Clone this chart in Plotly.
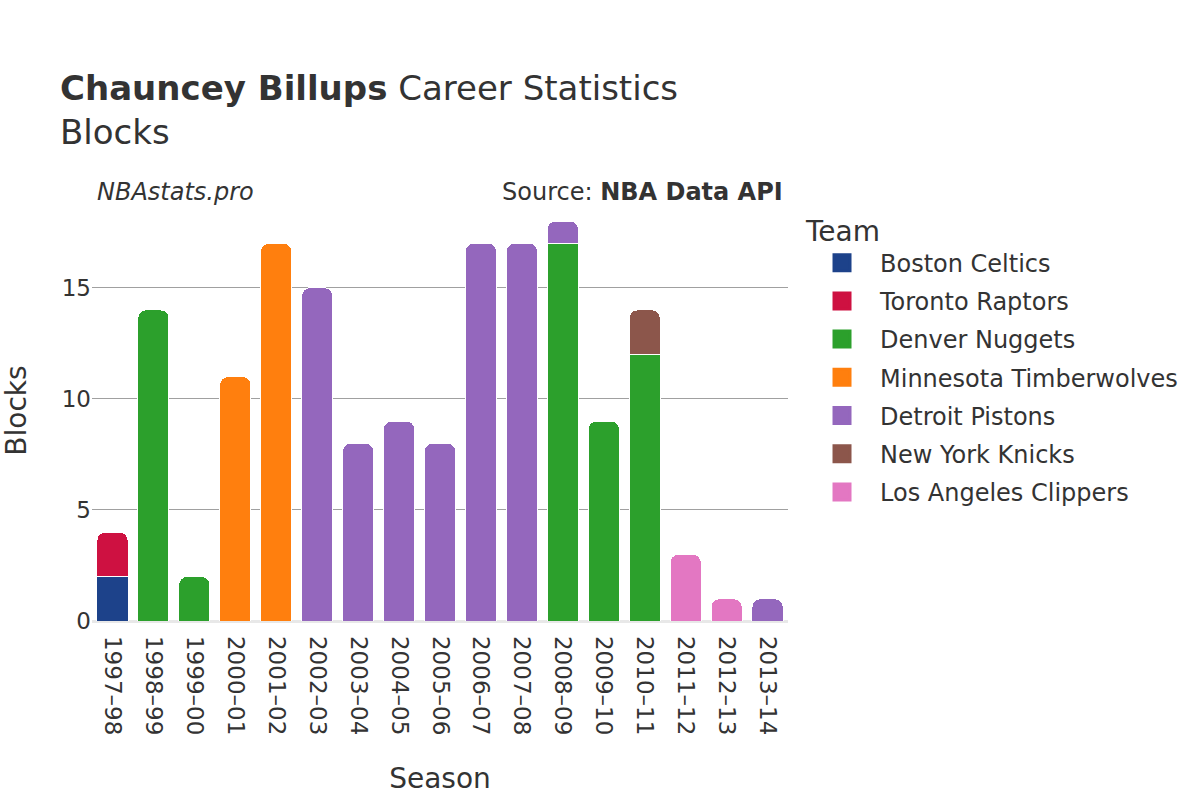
import plotly.graph_objects as go

seasons = ["1997–98", "1998–99", "1999–00", "2000–01", "2001–02", "2002–03", "2003–04",
           "2004–05", "2005–06", "2006–07", "2007–08", "2008–09", "2009–10", "2010–11",
           "2011–12", "2012–13", "2013–14"]

teams = ["Boston Celtics", "Toronto Raptors", "Denver Nuggets", "Minnesota Timberwolves",
         "Detroit Pistons", "New York Knicks", "Los Angeles Clippers"]

colors = ["#1d428a", "#ce1141", "#2ca02c", "#ff7f0e", "#9467bd", "#8c564b", "#e377c2"]

boston_celtics = {"1997–98": 2}
toronto_raptors = {"1997–98": 2}
denver_nuggets = {"1998–99": 14, "1999–00": 2, "2008–09": 17, "2009–10": 9, "2010–11": 12}
minnesota_timberwolves = {"2000–01": 11, "2001–02": 17}
detroit_pistons = {"2002–03": 15, "2003–04": 8, "2004–05": 9, "2005–06": 8, "2006–07": 17,
                   "2007–08": 17, "2008–09": 1, "2013–14": 1}
new_york_knicks = {"2010–11": 2}
los_angeles_clippers = {"2011–12": 3, "2012–13": 1}

team_data = [boston_celtics, toronto_raptors, denver_nuggets, minnesota_timberwolves,
             detroit_pistons, new_york_knicks, los_angeles_clippers]

FONT = "DejaVu Sans"
TXT = "#333333"

fig = go.Figure()
for team, color, data in zip(teams, colors, team_data):
    xs = list(data.keys())
    ys = list(data.values())
    fig.add_trace(go.Bar(
        x=xs, y=ys, name=team, legendgroup=team, showlegend=False,
        marker=dict(color=color, line=dict(color="white", width=1)),
    ))
# legend entries (larger rounded-square swatches)
for team, color in zip(teams, colors):
    fig.add_trace(go.Scatter(
        x=[None], y=[None], mode="markers", name=team, legendgroup=team,
        marker=dict(symbol="square", size=19, color=color,
                    line=dict(color=color, width=3)),
        hoverinfo="skip",
    ))

fig.update_layout(
    barmode="stack",
    barcornerradius=8,
    bargap=0.24,
    width=1200, height=800,
    paper_bgcolor="white", plot_bgcolor="white",
    font=dict(family=FONT, color=TXT, size=22),
    margin=dict(l=92, r=412, t=200, b=179),
    title=dict(
        text="<b>Chauncey Billups</b> Career Statistics<br>Blocks",
        x=0.05, xanchor="left", y=0.875, yanchor="top",
        font=dict(family=FONT, size=34, color=TXT),
    ),
    legend=dict(
        title=dict(text="Team", font=dict(size=28, color=TXT)),
        font=dict(size=24, color=TXT),
        x=1.023, xanchor="left", y=0.99, yanchor="top",
        traceorder="grouped", tracegroupgap=4, itemwidth=66,
    ),
    xaxis=dict(
        title=dict(text="Season", font=dict(size=28, color=TXT), standoff=34),
        type="category", categoryorder="array", categoryarray=seasons,
        tickangle=90, tickfont=dict(size=23, color=TXT), ticklabelstandoff=14,
        showgrid=False, showline=False, ticks="", automargin=False,
    ),
    yaxis=dict(
        title=dict(text="Blocks", font=dict(size=28, color=TXT), standoff=32),
        tickfont=dict(size=23, color=TXT),
        showgrid=True, gridcolor="#a0a0a0", gridwidth=1,
        zeroline=True, zerolinecolor="#e8e8e8", zerolinewidth=3,
        tickvals=[0, 5, 10, 15], ticks="", automargin=False,
    ),
    annotations=[
        dict(text="<i>NBAstats.pro</i>", xref="paper", yref="paper", x=0.005, y=1.02,
             xanchor="left", yanchor="middle", showarrow=False,
             font=dict(size=24, color=TXT, family=FONT)),
        dict(text="Source: <b>NBA Data API</b>", xref="paper", yref="paper", x=0.995, y=1.02,
             xanchor="right", yanchor="middle", showarrow=False,
             font=dict(size=24, color=TXT, family=FONT)),
    ],
)

fig.write_html("out.html", config={"displayModeBar": False},
               post_script="document.body.style.margin='0px';")
